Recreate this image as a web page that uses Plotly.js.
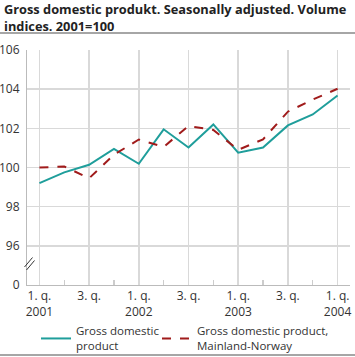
<!DOCTYPE html>
<html>
<head>
<meta charset="utf-8">
<script src="https://cdn.plot.ly/plotly-3.0.1.min.js"></script>
<style>
html,body{margin:0;padding:0;background:#fff;}
#wrap{position:relative;width:355px;height:357px;}
#chart{width:355px;height:357px;}
.rule{position:absolute;left:0;width:355px;height:2px;background:#a6a6a6;pointer-events:none;}
</style>
</head>
<body>
<div id="wrap">
<div id="chart"></div>
<div class="rule" style="top:32px"></div>
<div class="rule" style="top:354px"></div>
</div>
<script>
const quarters = ["2001Q1","2001Q2","2001Q3","2001Q4","2002Q1","2002Q2","2002Q3","2002Q4","2003Q1","2003Q2","2003Q3","2003Q4","2004Q1"];
const gdp = [99.2, 99.75, 100.14, 100.95, 100.19, 101.95, 101.02, 102.2, 100.76, 101.02, 102.15, 102.71, 103.68];
const gdpMainland = [100.0, 100.05, 99.45, 100.65, 101.43, 101.05, 102.12, 101.92, 100.9, 101.44, 102.85, 103.47, 104.02];
const xTickLabels = ["1. q.<br>2001","3. q.","1. q.<br>2002","3. q.","1. q.<br>2003","3. q.","1. q.<br>2004"];
const yTickVals = [94, 96, 98, 100, 102, 104, 106];
const yTickText = ["0", "96", "98", "100", "102", "104", "106"];
const seriesNames = ["Gross domestic<br>product", "Gross domestic product,<br>Mainland-Norway"];
const titleText = "Gross domestic produkt. Seasonally adjusted. Volume<br>indices. 2001=100";

const idx = quarters.map((q, i) => i);
const majorIdx = idx.filter(i => i % 2 === 0);
const minorIdx = idx.filter(i => i % 2 === 1);

const font = "'Open Sans', 'DejaVu Sans', sans-serif";
const L = 27, R = 350, T = 50, B = 285;
const px = x => (x - L) / (R - L);
const py = y => (B - y) / (B - T);

const traces = [
  {x: idx, y: gdp, type: 'scatter', mode: 'lines', name: seriesNames[0], legend: 'legend',
   line: {color: '#1f9e9b', width: 2}},
  {x: idx, y: gdpMainland, type: 'scatter', mode: 'lines', name: seriesNames[1], legend: 'legend2',
   line: {color: '#a01b1b', width: 2, dash: 'dash'}}
];

const legendBase = {orientation: 'h', xanchor: 'left', y: py(317), yanchor: 'top',
  font: {family: font, size: 11.5, color: '#333'}, itemwidth: 30, bgcolor: 'rgba(0,0,0,0)'};

const layout = {
  width: 355, height: 357,
  margin: {l: L, r: 355 - R, t: T, b: 357 - B, autoexpand: false},
  paper_bgcolor: '#fff', plot_bgcolor: '#fff',
  font: {family: font, size: 12, color: '#333'},
  xaxis: {range: [-0.5, 12.5], tickmode: 'array', tickvals: majorIdx, ticktext: xTickLabels,
    showgrid: true, gridcolor: '#d9d9d9', gridwidth: 1.5, zeroline: false,
    showline: true, linecolor: '#bbb', linewidth: 1, ticks: '', automargin: false,
    tickfont: {family: font, size: 12, color: '#333'},
    minor: {tickmode: 'array', tickvals: minorIdx, ticks: 'inside', ticklen: 5, tickcolor: '#ccc', tickwidth: 1.5, showgrid: false},
    fixedrange: true},
  yaxis: {range: [94, 106], tickmode: 'array', tickvals: yTickVals, ticktext: yTickText,
    showgrid: true, gridcolor: '#d9d9d9', gridwidth: 1.5, zeroline: false,
    showline: true, linecolor: '#bbb', linewidth: 1, ticks: '', ticklabelstandoff: 4, automargin: false,
    tickfont: {family: font, size: 12, color: '#333'}, fixedrange: true},
  showlegend: true,
  legend: Object.assign({}, legendBase, {x: px(36)}),
  legend2: Object.assign({}, legendBase, {x: px(157)}),
  annotations: [
    {text: '<b>' + titleText + '</b>', xref: 'paper', yref: 'paper', x: px(2), y: py(-2), xanchor: 'left', yanchor: 'top',
     align: 'left', showarrow: false, font: {family: font, size: 12.8, color: '#222'}}
  ],
  shapes: [
    {type: 'line', xref: 'paper', yref: 'paper', x0: px(24.5), x1: px(32.5), y0: py(267), y1: py(257.5), line: {color: '#333', width: 1}},
    {type: 'line', xref: 'paper', yref: 'paper', x0: px(26.5), x1: px(34.5), y0: py(270), y1: py(260.5), line: {color: '#333', width: 1}}
  ]
};

Plotly.newPlot('chart', traces, layout, {displayModeBar: false, staticPlot: true});
</script>
</body>
</html>
